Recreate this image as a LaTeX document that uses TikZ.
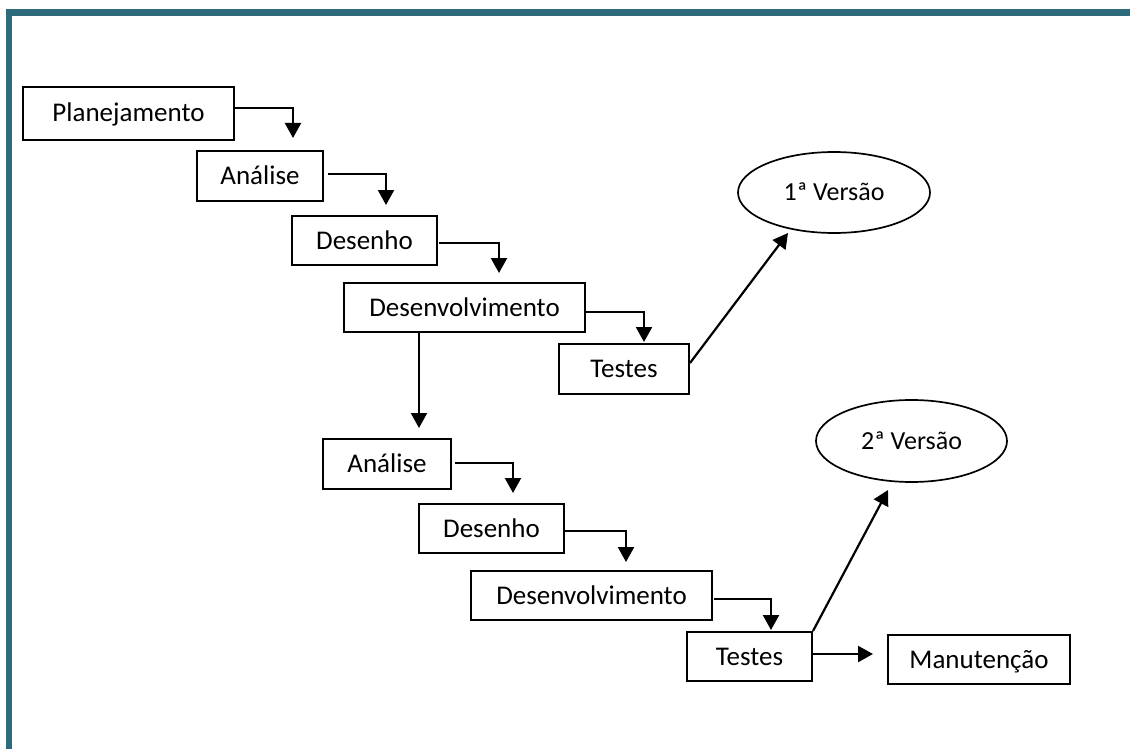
\documentclass[tikz,border=0pt]{standalone}
\usepackage{fontspec}
\setmainfont{Carlito}
\usetikzlibrary{arrows.meta,shapes.geometric}
\definecolor{frameteal}{RGB}{45,106,124}
\begin{document}
\begin{tikzpicture}[x=1pt,y=-1pt,
  phase/.style={draw=black,line width=2pt,rectangle,inner sep=0pt,
    font=\fontsize{27}{32}\selectfont,text height=17pt,text depth=0pt},
  release/.style={draw=black,line width=1.7pt,ellipse,inner sep=0pt,
    font=\fontsize{26}{31}\selectfont,text height=16pt,text depth=0pt},
  flow/.style={line width=2.2pt,-{Triangle[width=16pt,length=15pt]}}]
\useasboundingbox (0,0) rectangle (1130,749);
\fill[white] (0,0) rectangle (1130,749);
% frame along the top and left edges
\fill[frameteal] (5.7,9) rectangle (1130,16);
\fill[frameteal] (5.7,9) rectangle (12.3,749);

% first cycle
\node[phase,minimum width=211pt,minimum height=53pt] (plan) at (128.5,113.5) {Planejamento};
\node[phase,minimum width=126pt,minimum height=50pt] (ana1) at (260,176) {Análise};
\node[phase,minimum width=145pt,minimum height=49pt] (des1) at (364.5,240.5) {Desenho};
\node[phase,minimum width=241pt,minimum height=49pt] (dev1) at (464.5,307.5) {Desenvolvimento};
\node[phase,minimum width=130pt,minimum height=50pt] (tst1) at (624,369) {Testes};
\node[release,minimum width=192pt,minimum height=81pt] (v1) at (834,192.5) {1ª Versão};

% second cycle
\node[phase,minimum width=128pt,minimum height=50pt] (ana2) at (387,464) {Análise};
\node[phase,minimum width=145pt,minimum height=49pt] (des2) at (491.5,528.5) {Desenho};
\node[phase,minimum width=241pt,minimum height=49pt] (dev2) at (591.5,595.5) {Desenvolvimento};
\node[phase,minimum width=125pt,minimum height=49pt] (tst2) at (749.5,656.5) {Testes};
\node[release,minimum width=191pt,minimum height=82pt] (v2) at (911.5,441) {2ª Versão};
\node[phase,minimum width=182pt,minimum height=49pt] (man) at (979,659.5) {Manutenção};

% arrow ends
\coordinate (t1) at (293,138);
\coordinate (t2) at (386,205);
\coordinate (t3) at (499,273);
\coordinate (t4) at (644,342);
\coordinate (t5) at (788,233);
\coordinate (t6) at (419,428);
\coordinate (t7) at (513,493);
\coordinate (t8) at (626,562);
\coordinate (t9) at (771,630);
\coordinate (t10) at (888,490);
\coordinate (t11) at (873,654);

\draw[flow] ([yshift=5.5pt]plan.east) -| (t1);
\draw[flow] ([xshift=4pt,yshift=2pt]ana1.east) -| (t2);
\draw[flow] ([xshift=1pt,yshift=-2.5pt]des1.east) -| (t3);
\draw[flow] ([yshift=-4.5pt]dev1.east) -| (t4);
\draw[flow] ([yshift=6pt]tst1.east) -- (t5);
\draw[flow] (dev1.south -| t6) -- (t6);
\draw[flow] ([xshift=3pt,yshift=1pt]ana2.east) -| (t7);
\draw[flow] ([yshift=-2.5pt]des2.east) -| (t8);
\draw[flow] ([xshift=1pt,yshift=-3.5pt]dev2.east) -| (t9);
\draw[flow] (tst2.north east) -- (t10);
\draw[flow] ([yshift=2.5pt]tst2.east) -- (t11);
\end{tikzpicture}
\end{document}
